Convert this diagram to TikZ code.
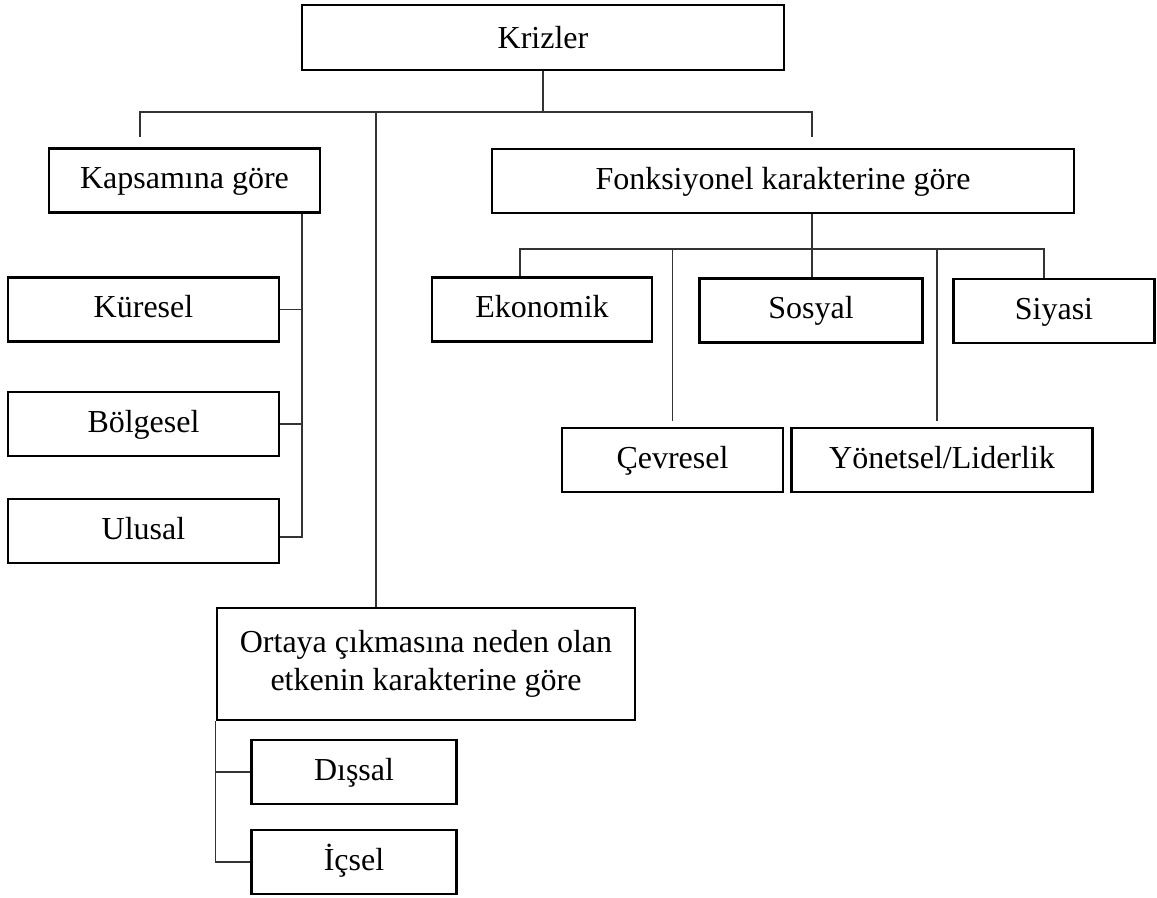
\documentclass[tikz,border=0pt]{standalone}
\usepackage{fontspec}
\setmainfont{Liberation Serif}
\usepackage{tikz}

\begin{document}
\begin{tikzpicture}
      [ x=0.5pt, y=-0.5pt
      , box/.style={draw, line width=1.3pt, inner sep=0pt, minimum height=32pt,
                    text height=12pt, text depth=3.5pt,
                    font=\fontsize{16}{19}\selectfont}
      , tallbox/.style={draw, line width=1.3pt, inner sep=0pt, align=center,
                    font=\fontsize{16}{19}\selectfont}
      , link/.style={black!80, draw, line width=0.7pt}
      ]
    \useasboundingbox (0,0) rectangle (1157,898);

    \node[box, minimum width=241pt, minimum height=32.5pt, text depth=1pt] (K) at (543,37.5) {Krizler};

    \node[box, minimum width=135.5pt] (KG) at (184.5,180.5) {Kapsamına göre};
    \node[box, minimum width=291pt] (FK) at (783,181) {Fonksiyonel karakterine göre};

    \node[box, minimum width=135.5pt] (KU) at (143.5,309.5) {Küresel};
    \node[box, minimum width=135.5pt] (BO) at (143.5,424) {Bölgesel};
    \node[box, minimum width=135.5pt] (UL) at (143.5,531) {Ulusal};

    \node[box, minimum width=110pt] (EK) at (542,309.5) {Ekonomik};
    \node[box, minimum width=111.5pt] (SO) at (811,310.5) {Sosyal};
    \node[box, minimum width=100.5pt] (SI) at (1054,311) {Siyasi};
    \node[box, minimum width=110.5pt] (CE) at (672.5,460) {Çevresel};
    \node[box, minimum width=150.5pt] (YL) at (942,460) {Yönetsel/Liderlik};

    \node[tallbox, minimum width=209pt, minimum height=56pt] (OE) at (426,664)
      {Ortaya çıkmasına neden olan\\etkenin karakterine göre};
    \node[box, minimum width=102.5pt] (DI) at (354,772) {Dışsal};
    \node[box, minimum width=102.5pt] (IC) at (354,862) {İçsel};

    % main bar under Krizler
    \coordinate (barL) at (140,112);
    \coordinate (barR) at (812,112);
    \coordinate (barM) at (376,112);
    \coordinate (KGend) at (140,137);
    \coordinate (FKend) at (812,137);

    \draw[link] (K.south) -- (K.south |- barL);
    \draw[link] (KGend) -- (barL) -- (barR) -- (FKend);
    \draw[link] (barM) -- (barM |- OE.north);

    % Kapsamina gore
    \coordinate (KGspine) at (302,0);
    \draw[link] (KG.south -| KGspine) |- ([yshift=-3pt]UL.east);
    \draw[link] (KU.east) -- (KU.east -| KGspine);
    \draw[link] (BO.east) -- (BO.east -| KGspine);

    % Fonksiyonel karakterine gore
    \coordinate (fbL) at (520,249);
    \coordinate (fbR) at (1044,249);
    \coordinate (YLline) at ([xshift=-2.5pt]YL.north);
    \draw[link] (FK.south -| FKend) -- (SO.north -| FKend);
    \draw[link] (EK.north -| fbL) |- (fbR) -- (SI.north -| fbR);
    \draw[link] (CE.north |- fbL) -- ([yshift=3pt]CE.north);
    \draw[link] (YLline |- fbL) -- ([yshift=3pt]YLline);

    % etkenin karakterine gore
    \draw[link] (OE.south west) |- (IC.west);
    \draw[link] (DI.west) -- (DI.west -| OE.south west);

  \end{tikzpicture}
\end{document}
